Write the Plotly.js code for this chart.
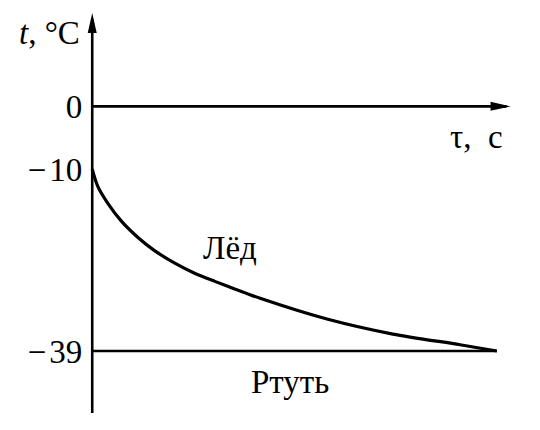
<!DOCTYPE html>
<html>
<head>
<meta charset="utf-8">
<script src="https://cdn.plot.ly/plotly-3.0.1.min.js"></script>
<style>
  html, body { margin: 0; padding: 0; background: #fff; }
  #chart { width: 540px; height: 430px; }
</style>
</head>
<body>
<div id="chart"></div>
<script>
// Лёд: температура по времени (условные единицы по оси τ)
const tauIce = [0, 1.4, 3.9, 7.2, 11.3, 15.4, 20.4, 25.3, 30.3, 35.2, 41.5, 58.0, 74.3, 90.9, 100];
const tIce = [-10, -12.8, -15.5, -18.3, -20.9, -23.0, -25.0, -26.6, -27.9, -29.1, -30.6, -33.9, -36.3, -38.0, -39];

// Ртуть: постоянная температура
const tauHg = [0, 100];
const tHg = [-39, -39];

const yTickVals = [0, -10, -39];
const yTickText = ['0', '\u2212\u200a10', '\u2212\u200a39'];

const serif = 'Liberation Serif';
const ink = '#000';

// оси со стрелками
const xEnd = 103.4;
const yTop = 14.9;
const yBottom = -48.9;

var ice = {
    x: tauIce,
    y: tIce,
    mode: 'lines',
    type: 'scatter',
    line: {color: ink, width: 3.2, shape: 'spline', smoothing: 0.8},
    hoverinfo: 'skip'
};

var mercury = {
    x: tauHg,
    y: tHg,
    mode: 'lines',
    type: 'scatter',
    line: {color: ink, width: 2.6},
    hoverinfo: 'skip'
};

var shapes = [
    {type: 'line', xref: 'x', yref: 'y', x0: 0, x1: 0, y0: yBottom, y1: yTop - 1,
     line: {color: ink, width: 2.6}},
    {type: 'line', xref: 'x', yref: 'y', x0: 0, x1: xEnd - 1, y0: 0, y1: 0,
     line: {color: ink, width: 2.6}},
    // стрелка вверх
    {type: 'path', xref: 'x', yref: 'y', xsizemode: 'pixel', ysizemode: 'pixel',
     xanchor: 0, yanchor: yTop, path: 'M0,0 L-4.5,-20 L4.5,-20 Z',
     fillcolor: ink, line: {width: 0}},
    // стрелка вправо
    {type: 'path', xref: 'x', yref: 'y', xsizemode: 'pixel', ysizemode: 'pixel',
     xanchor: xEnd, yanchor: 0, path: 'M0,0 L-20,4.5 L-20,-4.5 Z',
     fillcolor: ink, line: {width: 0}}
];

var annotations = [
    {x: -2.5, y: 11.7, xref: 'x', yref: 'y', text: '<i>t</i>, °C', showarrow: false,
     xanchor: 'right', yanchor: 'middle', font: {family: serif, size: 33, color: ink}},
    {x: 95, y: -4.9, xref: 'x', yref: 'y', text: 'τ, \u00a0с', showarrow: false,
     xanchor: 'center', yanchor: 'middle', font: {family: serif, size: 33, color: ink}},
    {x: 34.1, y: -22.6, xref: 'x', yref: 'y', text: 'Лёд', showarrow: false,
     xanchor: 'center', yanchor: 'middle', font: {family: serif, size: 33, color: ink}},
    {x: 49, y: -44.0, xref: 'x', yref: 'y', text: 'Ртуть', showarrow: false,
     xanchor: 'center', yanchor: 'middle', font: {family: serif, size: 33, color: ink}}
];

var layout = {
    width: 540,
    height: 430,
    margin: {l: 72, r: 27, t: 6, b: 10},
    paper_bgcolor: '#fff',
    plot_bgcolor: '#fff',
    showlegend: false,
    font: {family: serif, color: ink},
    xaxis: {range: [-5, 104], visible: false, fixedrange: true},
    yaxis: {
        range: [-50, 16],
        anchor: 'free',
        position: 0.0458,
        showgrid: false,
        zeroline: false,
        showline: false,
        ticks: '',
        tickvals: yTickVals,
        ticktext: yTickText,
        ticklabelstandoff: 10,
        tickfont: {family: serif, size: 33, color: ink},
        fixedrange: true
    },
    shapes: shapes,
    annotations: annotations
};

Plotly.newPlot('chart', [mercury, ice], layout, {displayModeBar: false, staticPlot: true});
</script>
</body>
</html>
